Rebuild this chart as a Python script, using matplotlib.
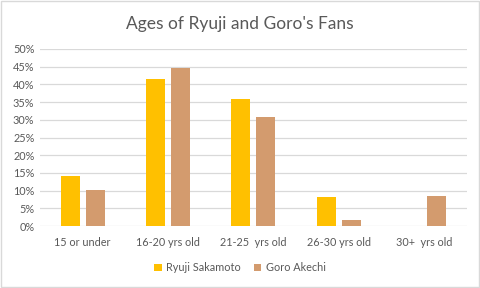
import matplotlib
matplotlib.use("Agg")
import matplotlib.pyplot as plt
import numpy as np
from matplotlib.ticker import PercentFormatter

categories = ["15 or under", "16-20 yrs old", "21-25  yrs old", "26-30 yrs old", "30+  yrs old"]
ryuji = [0.14, 0.415, 0.359, 0.083, 0.0]
goro = [0.102, 0.447, 0.307, 0.017, 0.086]
series_names = ["Ryuji Sakamoto", "Goro Akechi"]
yticks = np.arange(0, 0.51, 0.05)

plt.rcParams['font.family'] = ['Lato', 'DejaVu Sans']
fig = plt.figure(figsize=(4.8, 2.88), dpi=100)
ax = fig.add_axes([0.0833, 0.215, 0.889, 0.615])
x = np.arange(len(categories))
w = 0.22
off = 0.146
ax.bar(x - off, ryuji, w, color="#FFC000", label=series_names[0], zorder=3)
ax.bar(x + off, goro, w, color="#D39B6E", label=series_names[1], zorder=3)
ax.set_xlim(-0.5, len(categories) - 0.5)
ax.set_ylim(0, 0.5)
ax.set_yticks(yticks)
ax.yaxis.set_major_formatter(PercentFormatter(1.0, decimals=0))
ax.set_xticks(x)
ax.set_xticklabels(categories)
ax.grid(axis="y", color="#D9D9D9", linewidth=0.9, zorder=0)
for s in ax.spines.values():
    s.set_visible(False)
ax.tick_params(axis="both", length=0, colors="#595959", labelsize=7.8)
ax.tick_params(axis="x", pad=8)
ax.tick_params(axis="y", pad=4)
fig.suptitle("Ages of Ryuji and Goro's Fans", y=0.945, fontsize=12.5, color="#595959")
fig.legend(loc="center", bbox_to_anchor=(0.5, 0.07), ncol=2, frameon=False,
           fontsize=7.8, labelcolor="#595959", handlelength=0.7, handleheight=0.7,
           handletextpad=0.4, columnspacing=1.2)
fig.patches.append(plt.Rectangle((0.002, 0.003), 0.995, 0.993, transform=fig.transFigure,
                                 fill=False, edgecolor="#D9D9D9", linewidth=1))
fig.savefig("out.png", dpi=100)
